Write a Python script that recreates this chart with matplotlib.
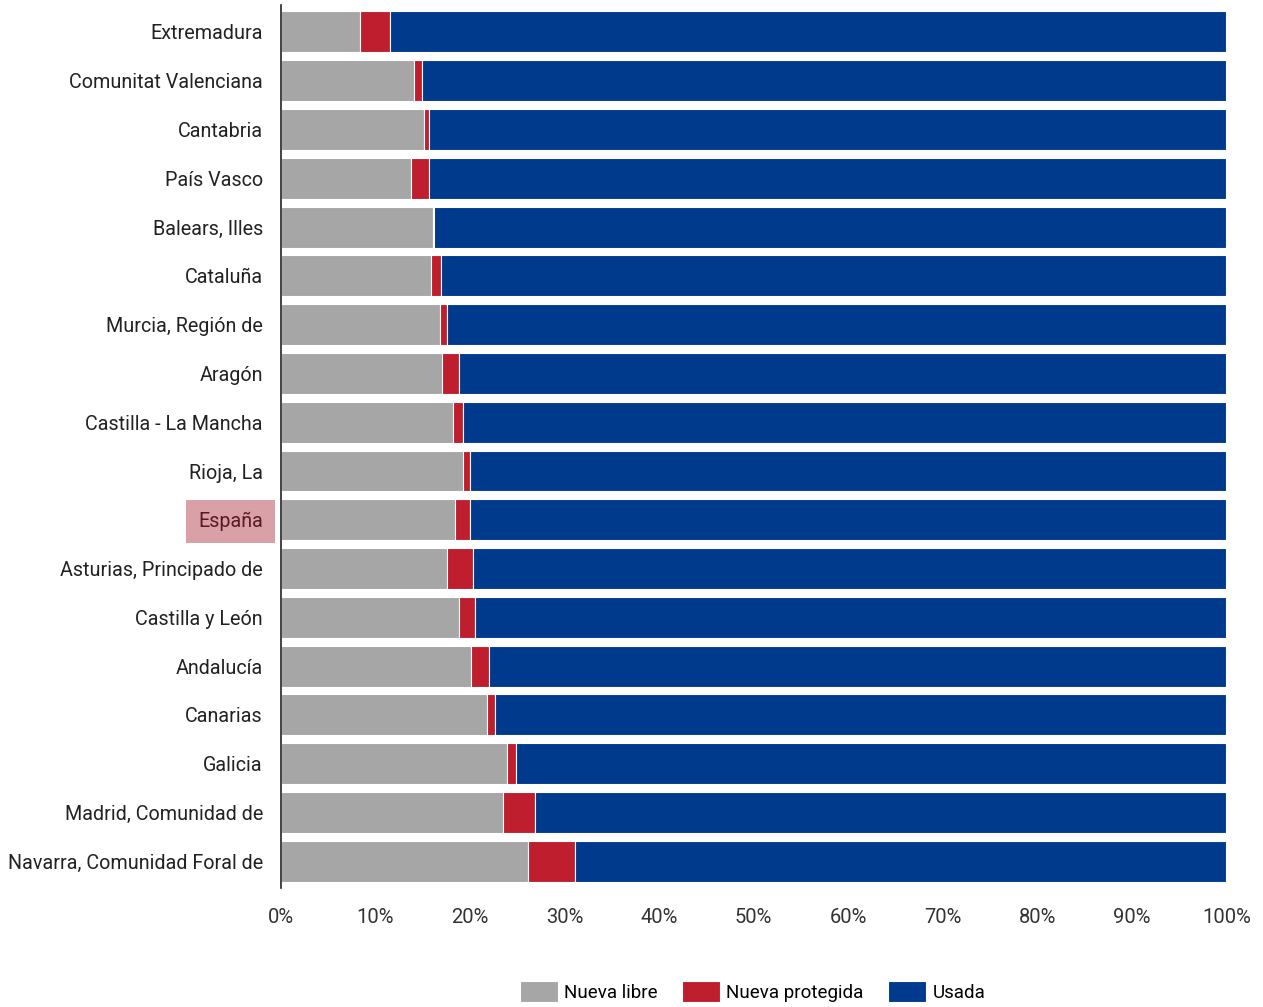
import numpy as np
import matplotlib.pyplot as plt

regiones = ['Extremadura', 'Comunitat Valenciana', 'Cantabria', 'País Vasco',
            'Balears, Illes', 'Cataluña', 'Murcia, Región de', 'Aragón',
            'Castilla - La Mancha', 'Rioja, La', 'España', 'Asturias, Principado de',
            'Castilla y León', 'Andalucía', 'Canarias', 'Galicia',
            'Madrid, Comunidad de', 'Navarra, Comunidad Foral de']
nueva_libre = [8.4, 14.1, 15.1, 13.8, 16.1, 15.9, 16.8, 17.0, 18.2, 19.3,
               18.4, 17.6, 18.8, 20.1, 21.8, 23.9, 23.5, 26.1]
nueva_protegida = [3.1, 0.8, 0.6, 1.9, 0.1, 1.0, 0.8, 1.8, 1.0, 0.7,
                   1.6, 2.7, 1.7, 1.9, 0.8, 1.0, 3.4, 5.0]
usada = [100 - a - b for a, b in zip(nueva_libre, nueva_protegida)]
xticks = np.arange(0, 101, 10)

plt.rcParams['font.family'] = ['Roboto', 'DejaVu Sans']

fig = plt.figure(figsize=(12.63, 10.07), dpi=100)
ax = fig.add_axes([0.2225, 0.118, 0.7485, 0.877])

y = np.arange(len(regiones))
nl = np.array(nueva_libre)
npv = np.array(nueva_protegida)
us = np.array(usada)
h = 0.84
ax.barh(y, nl, height=h, color='#A6A6A6', edgecolor='white', lw=0.8, label='Nueva libre')
ax.barh(y, npv, left=nl, height=h, color='#BE1E2D', edgecolor='white', lw=0.8, label='Nueva protegida')
ax.barh(y, us, left=nl + npv, height=h, color='#003A8C', edgecolor='white', lw=0.8, label='Usada')

ax.set_ylim(len(regiones) - 0.45, -0.55)
ax.set_xlim(0, 100)
ax.set_yticks(y)
ax.set_yticklabels(regiones, fontsize=14.2, color='#222222')
ax.set_xticks(xticks)
ax.set_xticklabels([f'{v}%' for v in xticks], fontsize=14.5, color='#333333')
ax.tick_params(axis='both', length=0)
ax.tick_params(axis='y', pad=13)
ax.tick_params(axis='x', pad=14)
for s in ['top', 'right', 'bottom']:
    ax.spines[s].set_visible(False)
ax.spines['left'].set_color('#222222')
ax.spines['left'].set_linewidth(1.2)

for lbl in ax.get_yticklabels():
    if lbl.get_text() == 'España':
        lbl.set_color('#5A1A25')
        lbl.set_bbox(dict(facecolor='#D9A0A8', edgecolor='none', pad=8.5))

fig.legend(loc='lower center', bbox_to_anchor=(0.596, -0.012), ncol=3, frameon=False,
           fontsize=13.5, handlelength=2.0, handleheight=1.35, columnspacing=1.3, handletextpad=0.35)

plt.savefig('out.png', dpi=100)
